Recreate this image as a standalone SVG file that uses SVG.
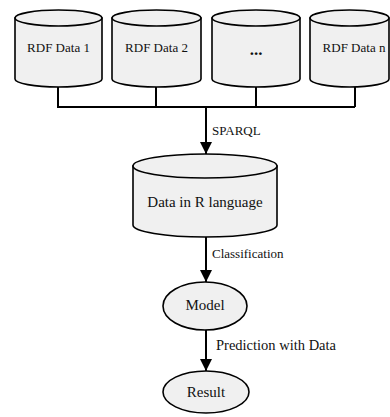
<svg xmlns="http://www.w3.org/2000/svg" width="390" height="417" viewBox="0 0 390 417">
  <defs>
    <style>
      .shape { fill: #f0f0f0; stroke: #000; stroke-width: 1.6; }
      .wire { fill: none; stroke: #000; stroke-width: 2; }
      .name { font-family: "Liberation Serif", "Times New Roman", "DejaVu Serif", serif; font-size: 13px; fill: #111; text-anchor: middle; }
      .big { font-size: 15px; }
      .dots { font-size: 17px; font-weight: bold; }
      .lbl { font-family: "Liberation Serif", "Times New Roman", "DejaVu Serif", serif; font-size: 13px; fill: #111; }
    </style>
    <marker id="arrow" viewBox="0 0 12 12" refX="12" refY="6" markerWidth="12" markerHeight="12" markerUnits="userSpaceOnUse" orient="auto">
      <path d="M0,0 L12,6 L0,12 Z" fill="#000"/>
    </marker>
  </defs>
  <rect width="390" height="417" fill="#fff"/>

  <!-- connectors -->
  <g id="connectors">
    <path class="wire" d="M58,87 V107 H355 M156,87 V107 M256,87 V107 M355,87 V107"/>
    <path class="wire" d="M206,107 V154" marker-end="url(#arrow)"/>
    <path class="wire" d="M206,237 V282" marker-end="url(#arrow)"/>
    <path class="wire" d="M206,330 V371" marker-end="url(#arrow)"/>
    <text class="lbl" x="212" y="135">SPARQL</text>
    <text class="lbl" x="212" y="258">Classification</text>
    <text class="lbl" x="216" y="350" style="font-size:14.5px">Prediction with Data</text>
  </g>

  <!-- RDF sources -->
  <g id="rdf1">
    <path class="shape" d="M15,18 V79 A43.5,8 0 0 0 102,79 V18 Z"/>
    <ellipse class="shape" cx="58.5" cy="18" rx="43.5" ry="8"/>
    <text class="name" x="58.5" y="52">RDF Data 1</text>
  </g>
  <g id="rdf2">
    <path class="shape" d="M112,18 V79 A44.5,8 0 0 0 201,79 V18 Z"/>
    <ellipse class="shape" cx="156.5" cy="18" rx="44.5" ry="8"/>
    <text class="name" x="156.5" y="52">RDF Data 2</text>
  </g>
  <g id="rdf3">
    <path class="shape" d="M212,18 V79 A44,8 0 0 0 300,79 V18 Z"/>
    <ellipse class="shape" cx="256" cy="18" rx="44" ry="8"/>
    <text class="name dots" x="256" y="55">...</text>
  </g>
  <g id="rdfn">
    <path class="shape" d="M310,18 V79 A39.5,8 0 0 0 389,79 V18 Z"/>
    <ellipse class="shape" cx="349.5" cy="18" rx="39.5" ry="8"/>
    <text class="name" x="354" y="52">RDF Data n</text>
  </g>

  <!-- R data store -->
  <g id="rdata">
    <path class="shape" d="M133,166 V225 A72,12 0 0 0 277,225 V166 Z"/>
    <ellipse class="shape" cx="205" cy="166" rx="72" ry="12"/>
    <text class="name big" x="205" y="207">Data in R language</text>
  </g>

  <!-- model -->
  <g id="model">
    <ellipse class="shape" cx="205" cy="306" rx="42" ry="24"/>
    <text class="name big" x="205" y="310">Model</text>
  </g>

  <!-- result -->
  <g id="result">
    <ellipse class="shape" cx="206" cy="392" rx="43" ry="21"/>
    <text class="name big" x="206" y="397">Result</text>
  </g>
</svg>
